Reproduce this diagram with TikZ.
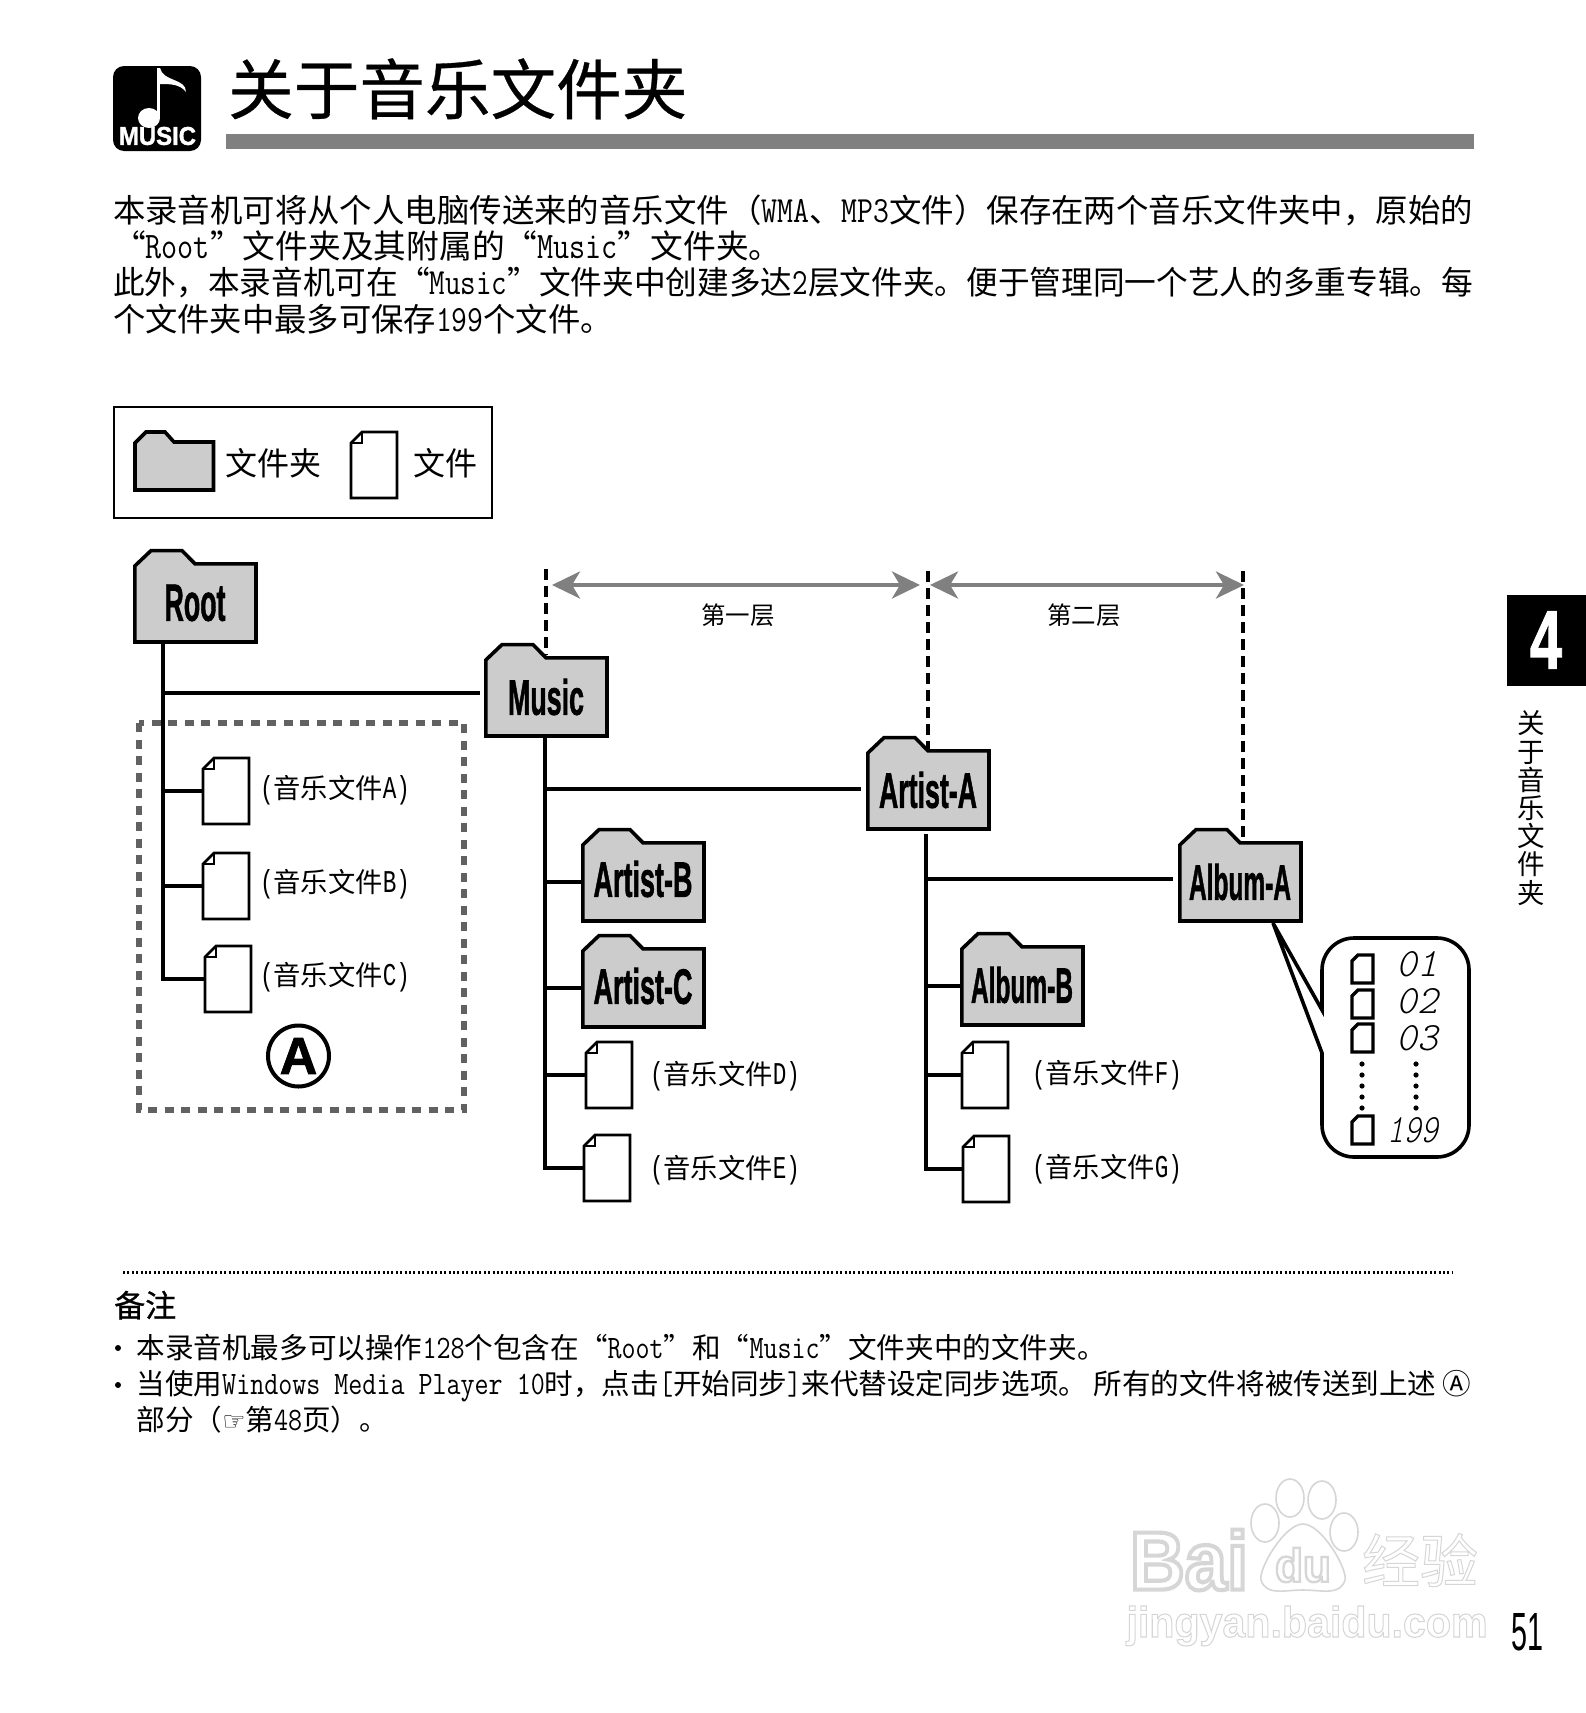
\documentclass[tikz,border=0pt]{standalone}
\usepackage{graphicx}
\usepackage{fontspec}
\usetikzlibrary{arrows.meta,calc}
\setmainfont{Noto Sans CJK SC}
\setmonofont{Latin Modern Mono}[Scale=0.953]
\newfontfamily\sansx{Liberation Sans}[BoldFeatures={FakeBold=1.5}]
\newfontfamily\wmf{Liberation Sans}
\newfontfamily\monox{Liberation Mono}[Scale=0.83]
\newfontfamily\djv{DejaVu Sans}
\newfontfamily\cjkheavy{Noto Sans CJK SC}[FakeBold=0.8]
\newfontfamily\cjktitle{Noto Sans CJK SC}[FakeBold=0.5]
\newfontfamily\segf{Latin Modern Mono Light}[FakeSlant=0.25]
\definecolor{foldergray}{gray}{0.8}
\definecolor{bargray}{gray}{0.5}
\definecolor{boxgray}{gray}{0.38}
\newcommand\fsz[1]{\fontsize{#1}{#1}\selectfont}
\newcommand\latx[1]{\scalebox{1}[1.2]{\ttfamily #1}}
\newcommand\just[2]{\resizebox{#1}{\height}{#2}}
\newcommand\hw[1]{\scalebox{1}[1.4]{\monox #1}}
\newcommand\ftext[2]{\resizebox{#1}{36pt}{\sansx\bfseries #2}}
\newcommand\outl[2]{\special{pdf:code q 1 Tr #1 w 0.84 G 1 g}#2\special{pdf:code Q}}
\tikzset{
  x=1pt,y=-1pt,
  txt/.style={anchor=base west,inner sep=0pt,outer sep=0pt,font=\fsz{32.3}},
  note/.style={anchor=base west,inner sep=0pt,outer sep=0pt,font=\fsz{28.6}},
  flab/.style={anchor=base west,inner sep=0pt,outer sep=0pt,font=\fsz{27.3}},
  conn/.style={line width=3.6pt,black},
  vdash/.style={line width=3.4pt,black,dash pattern=on 11pt off 6pt},
  span/.style={line width=4pt,bargray,{Stealth[length=28pt,width=27pt,inset=8pt]}-{Stealth[length=28pt,width=27pt,inset=8pt]}},
  folderline/.style={line width=3.6pt,fill=foldergray,draw=black,miter limit=4},
  fileline/.style={line width=2.6pt,fill=white,draw=black},
  anch/.style={inner sep=0pt,outer sep=0pt,minimum width=#1},
  wmtext/.style={inner sep=0pt},
}
% folder: top-left corner x,y of the 124x94 box; optional lift of the label
\newcommand\folder[6][0]{%
  \path[folderline] (#3+1.8,#4+93) -- (#3+1.8,#4+17) -- (#3+18,#4+1.6) -- (#3+49,#4+1.6) -- (#3+62,#4+14.8) -- (#3+123,#4+14.8) -- (#3+123,#4+93) -- cycle;
  \node[anch=124pt,minimum height=80pt] (#2) at (#3+62,#4+54) {};
  \node[inner sep=0pt] (#2t) at (#3+62,#4+54-#1) {\ftext{#6}{#5}};
}
\newcommand\filex[3]{%
  \path[fileline] (#2+12,#3+1) -- (#2+47,#3+1) -- (#2+47,#3+67) -- (#2+1,#3+67) -- (#2+1,#3+12) -- cycle;
  \draw[line width=2.6pt] (#2+12,#3+1) -- (#2+12,#3+12) -- (#2+1,#3+12);
  \node[anch=48pt,minimum height=68pt] (#1) at (#2+24,#3+34) {};
}
\newcommand\smallfile[3]{%
  \path[line width=3.4pt,fill=white,draw=black] (#2+6,#3) -- (#2+21,#3) -- (#2+21,#3+28) -- (#2,#3+28) -- (#2,#3+6) -- cycle;
  \node[anch=21pt,minimum height=28pt] (#1) at (#2+10,#3+14) {};
}
\begin{document}
\begin{tikzpicture}
\useasboundingbox (0,0) rectangle (1586,1713);
\fill[white] (0,0) rectangle (1586,1713);

% header
\fill[black,rounded corners=11pt] (113,66) rectangle (201,151);
\fill[white] (157,68) rectangle (160,118);
\fill[white] (149,118) ellipse (11 and 10);
\fill[white] (160,68) .. controls (163,82) and (186,78) .. (186,92) .. controls (180,84) and (170,84) .. (160,84) -- cycle;
\node[inner sep=0pt,text=white] (musiclogo) at (157.5,136) {\resizebox{77pt}{18pt}{\sansx\bfseries MUSIC}};
\node[anchor=base west,inner sep=0pt,font=\cjktitle\fsz{65.6}] (title) at (228,114) {关于音乐文件夹};
\fill[bargray] (226,134) rectangle (1474,149);

% paragraph
\node[txt] (p1) at (113,222) {\just{1360pt}{本录音机可将从个人电脑传送来的音乐文件（\latx{WMA}、\latx{MP3}文件）保存在两个音乐文件夹中，原始的}};
\node[txt,font=\fsz{32.75}] (p2) at (113,258) {“\latx{Root}”文件夹及其附属的“\latx{Music}”文件夹。};
\node[txt] (p3) at (113,294) {\just{1360pt}{此外，本录音机可在“\latx{Music}”文件夹中创建多达\latx{2}层文件夹。便于管理同一个艺人的多重专辑。每}};
\node[txt] (p4) at (113,331) {个文件夹中最多可保存\latx{199}个文件。};

% legend
\draw[line width=2pt] (113.5,406.5) rectangle (492,517.5);
\path[folderline] (135,490) -- (135,443) -- (146,432) -- (165,432) -- (174,442) -- (213.5,442) -- (213.5,490) -- cycle;
\node[anchor=west,inner sep=0pt,font=\fsz{32}] (lg1) at (225,463) {文件夹};
\filex{lgfile}{350}{431}
\node[anchor=west,inner sep=0pt,font=\fsz{32}] (lg2) at (413,463) {文件};

% dashed group box
\draw[line width=5.5pt,boxgray,dash pattern=on 9pt off 7.5pt] (139,723) rectangle (464,1110);

% callout
\draw[line width=3.6pt,fill=white] (1273,923) -- (1322,1010) [rounded corners=32pt] -- (1322,938) -- (1469,938) -- (1469,1157) -- (1322,1157) [sharp corners] -- (1322,1053) -- cycle;

% folders
\folder{root}{133}{549}{Root}{61pt}
\folder{music}{484}{643}{Music}{76pt}
\folder{artA}{866}{736}{Artist-A}{98pt}
\folder[3]{artB}{581}{828}{Artist-B}{99pt}
\folder[2]{artC}{581}{934}{Artist-C}{99pt}
\folder{albA}{1178}{828}{Album-A}{102pt}
\folder[1]{albB}{960}{932}{Album-B}{102pt}

% files
\filex{fa}{202}{757}
\filex{fb}{202}{852}
\filex{fc}{204}{945}
\filex{fd}{585}{1041}
\filex{fe}{583}{1134}
\filex{ff}{961}{1041}
\filex{fg}{962}{1135}

% file labels
\node[flab] (la) at (260,798) {\hw{(}音乐文件\hw{A)}};
\node[flab] (lb) at (260,892) {\hw{(}音乐文件\hw{B)}};
\node[flab] (lc) at (260,985) {\hw{(}音乐文件\hw{C)}};
\node[flab] (ld) at (650,1084) {\hw{(}音乐文件\hw{D)}};
\node[flab] (le) at (650,1178) {\hw{(}音乐文件\hw{E)}};
\node[flab] (lf) at (1032,1083) {\hw{(}音乐文件\hw{F)}};
\node[flab] (lg) at (1032,1177) {\hw{(}音乐文件\hw{G)}};

% trees
\coordinate (rt) at (163,643);
\coordinate (mt) at (545,736);
\coordinate (at) at (926,834);
\coordinate (mg) at (480,693);
\coordinate (ag) at (861,789);
\coordinate (bg) at (1173,879);
\draw[conn] (rt) |- (fc.west);
\draw[conn] (rt |- mg) -- (mg);
\draw[conn] (rt |- fa.west) -- (fa.west);
\draw[conn] (rt |- fb.west) -- (fb.west);
\draw[conn] (mt) |- (fe.west);
\draw[conn] (mt |- ag) -- (ag);
\draw[conn] (mt |- artB.west) -- (artB.west);
\draw[conn] (mt |- artC.west) -- (artC.west);
\draw[conn] (mt |- fd.west) -- (fd.west);
\draw[conn] (at) |- (fg.west);
\draw[conn] (at |- bg) -- (bg);
\draw[conn] (at |- albB.west) -- (albB.west);
\draw[conn] (at |- ff.west) -- (ff.west);

% level dashes and spans
\coordinate (d1t) at (546,569);
\coordinate (d1b) at (546,655);
\coordinate (d2t) at (928,571);
\coordinate (d2b) at (928,750);
\coordinate (d3t) at (1243,571);
\coordinate (d3b) at (1243,842);
\draw[vdash] (d1t) -- (d1b);
\draw[vdash] (d2t) -- (d2b);
\draw[vdash] (d3t) -- (d3b);
\coordinate (s1a) at (552,585);
\coordinate (s1b) at (920,585);
\coordinate (s2a) at (930,585);
\coordinate (s2b) at (1244,585);
\draw[span] (s1a) -- (s1b);
\draw[span] (s2a) -- (s2b);
\node[inner sep=0pt,font=\fsz{24.5}] (lev1) at (738,615) {第一层};
\node[inner sep=0pt,font=\fsz{24.5}] (lev2) at (1084,615) {第二层};

% circled A
\node[circle,draw,line width=4pt,minimum size=61pt,inner sep=0pt,font=\sansx\bfseries\fsz{52}] (circA) at (298.5,1056) {A};

% callout content
\smallfile{s1}{1352}{955}
\smallfile{s2}{1352}{990}
\smallfile{s3}{1352}{1024}
\smallfile{s4}{1352}{1116}
\foreach \yy in {1064,1075,1086,1097,1108}{
  \fill (1362,\yy) circle (2.6);
  \fill (1416,\yy) circle (2.6);
}
\node[anchor=east,inner sep=0pt] (n1) at (1438,964) {\resizebox{41pt}{25pt}{\segf 01}};
\node[anchor=east,inner sep=0pt] (n2) at (1438,1001) {\resizebox{41pt}{25pt}{\segf 02}};
\node[anchor=east,inner sep=0pt] (n3) at (1438,1038) {\resizebox{41pt}{25pt}{\segf 03}};
\node[anchor=east,inner sep=0pt] (n4) at (1438,1130) {\resizebox{50pt}{25pt}{\segf 199}};

% side tab
\fill[black] (1507,595) rectangle (1586,686);
\node[inner sep=0pt,text=white] (tab4) at (1546,640) {\resizebox{32pt}{57pt}{\sansx\bfseries 4}};
\node[inner sep=0pt,align=center,font=\fontsize{27.5}{28.2}\selectfont] (sidetxt) at (1531,808) {关\\于\\音\\乐\\文\\件\\夹};

% notes
\draw[line width=3pt,dash pattern=on 2pt off 2.4pt] (123,1272) -- (1453,1272);
\node[anchor=base west,inner sep=0pt,font=\cjkheavy\fsz{31}] (nt) at (114,1317) {备注};
\fill (118,1348) circle (3);
\fill (118,1385) circle (3);
\node[note] (n1l) at (136.5,1358) {本录音机最多可以操作\latx{128}个包含在“\latx{Root}”和“\latx{Music}”文件夹中的文件夹。};
\node[note] (n2l) at (136.5,1394) {\just{1335pt}{当使用\latx{Windows Media Player 10}时，点击\latx{[}开始同步\latx{]}来代替设定同步选项。 所有的文件将被传送到上述 Ⓐ}};
\node[note] (n3l) at (136.5,1430) {部分（{\djv\fontsize{26}{26}\selectfont ☞}第\latx{48}页）。};

% watermark
\node[wmtext] (wbai) at (1189,1560) {\resizebox{118pt}{60pt}{\outl{0.5}{\wmf\bfseries Bai}}};
\foreach \ex/\ey/\rx/\ry in {1265/1523/14/19,1290/1498/14/19,1322/1500/14/19,1344/1532/14/19}
  \draw[black!16,line width=1.6pt] (\ex,\ey) ellipse (\rx pt and \ry pt);
\draw[black!16,line width=1.6pt] (1303,1524) .. controls (1322,1524) and (1348,1570) .. (1345,1580) .. controls (1340,1596) and (1322,1590) .. (1303,1590) .. controls (1284,1590) and (1266,1596) .. (1261,1580) .. controls (1258,1570) and (1284,1524) .. (1303,1524) -- cycle;
\node[wmtext] (wdu) at (1303,1565) {\resizebox{56pt}{34pt}{\outl{0.5}{\wmf\bfseries du}}};
\node[wmtext,font=\fsz{58}] (wjy) at (1420,1560) {\outl{1}{经验}};
\node[wmtext] (wurl) at (1307,1626) {\resizebox{361pt}{31pt}{\outl{0.25}{\wmf\bfseries jingyan.baidu.com}}};

% page number
\node[inner sep=0pt] (pg) at (1527,1632) {\resizebox{32pt}{37pt}{\sansx 51}};
\end{tikzpicture}
\end{document}
